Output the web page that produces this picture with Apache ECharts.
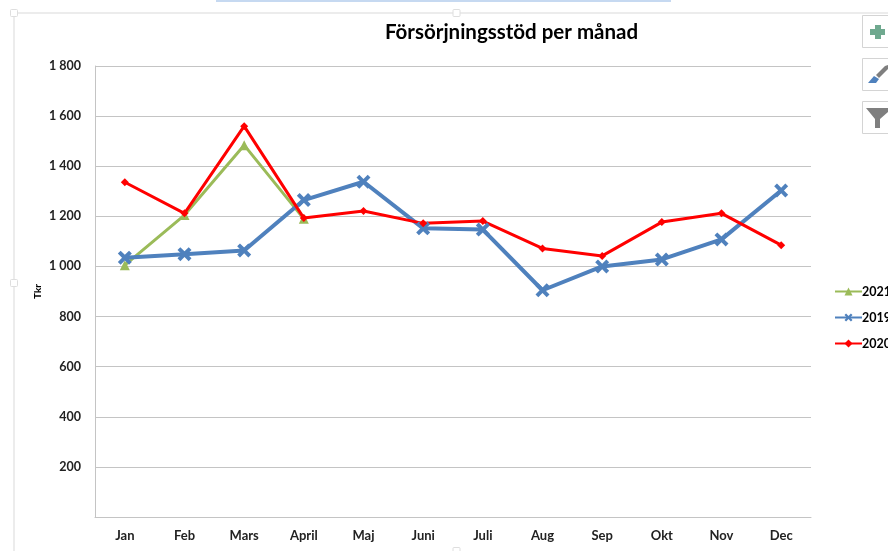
<!DOCTYPE html>
<html>
<head>
<meta charset="utf-8">
<style>html,body{margin:0;padding:0;background:#fff}#c{width:888px;height:551px}</style>
<script src="https://cdn.jsdelivr.net/npm/echarts@6/dist/echarts.min.js"></script>
</head>
<body>
<div id="c"></div>
<script>
const months = ['Jan','Feb','Mars','April','Maj','Juni','Juli','Aug','Sep','Okt','Nov','Dec'];
const v2021 = [1005,1205,1484,1190];
const v2019 = [1035,1049,1064,1265,1338,1152,1147,905,1000,1028,1108,1303];
const v2020 = [1336,1212,1560,1193,1221,1172,1181,1072,1042,1177,1212,1085];
const yTicks = {min:0,max:1800,step:200};
const FONT = 'Lato';
const xMark = 'path://M4,0 L10,6 L16,0 L20,4 L14,10 L20,16 L16,20 L10,14 L4,20 L0,16 L6,10 L0,4 Z';
const frame = '#ececec';
function handle(x,y){return {type:'rect',shape:{x:x,y:y,width:7,height:7,r:1},style:{fill:'#fff',stroke:'#dedede',lineWidth:1},silent:true};}
function button(y){return {type:'rect',shape:{x:862.5,y:y,width:40,height:32},style:{fill:'#fff',stroke:'#d4d4d4',lineWidth:1},silent:true};}
const chart = echarts.init(document.getElementById('c'),null,{renderer:'canvas'});
chart.setOption({
  animation:false,
  backgroundColor:'#fff',
  title:{text:'Försörjningsstöd per månad',left:506.5,top:17,textAlign:'center',
    textStyle:{fontFamily:FONT,fontSize:20.5,fontWeight:'bold',color:'#000'}},
  legend:{orient:'vertical',left:829,top:280,itemWidth:27,itemHeight:10,itemGap:13,
    data:['2021','2019','2020'],
    textStyle:{fontFamily:FONT,fontSize:12.5,fontWeight:'bold',color:'#000',padding:[0,0,0,-5]}},
  grid:{left:95,right:77,top:66,bottom:34},
  xAxis:{type:'category',data:months,boundaryGap:true,
    axisLine:{lineStyle:{color:'#c4c4c4',width:1}},
    axisTick:{show:false},
    axisLabel:{fontFamily:FONT,fontSize:13,fontWeight:'bold',color:'#222',margin:12}},
  yAxis:{type:'value',min:yTicks.min,max:yTicks.max,interval:yTicks.step,
    name:'Tkr',nameLocation:'middle',nameGap:52,nameMoveOverlap:false,
    nameTextStyle:{fontFamily:FONT,fontSize:10,fontWeight:'bold',color:'#000'},
    axisLine:{show:true,lineStyle:{color:'#c4c4c4',width:1}},
    axisTick:{show:false},
    splitLine:{lineStyle:{color:'#c4c4c4',width:1}},
    axisLabel:{fontFamily:FONT,fontSize:12.5,fontWeight:'bold',color:'#222',margin:14,
      formatter:function(v){return v===0?'':String(v).replace(/\B(?=(\d{3})+$)/g,' ');}}},
  series:[
    {name:'2021',type:'line',data:v2021,color:'#9bbb59',symbol:'triangle',symbolSize:10,
      lineStyle:{width:3,color:'#9bbb59'},itemStyle:{color:'#9bbb59'}},
    {name:'2019',type:'line',data:v2019,color:'#4f81bd',symbol:xMark,symbolSize:14,
      lineStyle:{width:4,color:'#4f81bd'},itemStyle:{color:'#4f81bd'}},
    {name:'2020',type:'line',data:v2020,color:'#ff0000',symbol:'diamond',symbolSize:8,
      lineStyle:{width:3,color:'#ff0000'},itemStyle:{color:'#ff0000'}}
  ],
  graphic:[
    {type:'rect',shape:{x:216,y:0,width:455,height:2},style:{fill:'#c6d9f1'},silent:true},
    {type:'rect',shape:{x:13,y:12,width:875,height:2},style:{fill:frame},silent:true},
    {type:'rect',shape:{x:13,y:12,width:2,height:539},style:{fill:frame},silent:true},
    handle(10.5,9.5),handle(453,9.5),handle(10.5,279.5),handle(453,547.5),
    button(15.5),button(58.5),button(101.5),
    {type:'polygon',shape:{points:[[875,25],[881,25],[881,29],[885,29],[885,35],[881,35],[881,39],[875,39],[875,35],[870,35],[870,29],[875,29]]},style:{fill:'#6fa98f'},silent:true},
    {type:'polygon',shape:{points:[[885,66],[888,65],[888,69],[879,78],[876,75]]},style:{fill:'#7f7f7f'},silent:true},
    {type:'polygon',shape:{points:[[874,76],[879,79],[876,83],[868,83]]},style:{fill:'#4f81bd'},silent:true},
    {type:'polygon',shape:{points:[[866,108],[888,108],[888,112],[880,119],[880,128],[875,128],[875,119]]},style:{fill:'#7f7f7f'},silent:true}
  ]
});
</script>
</body>
</html>
